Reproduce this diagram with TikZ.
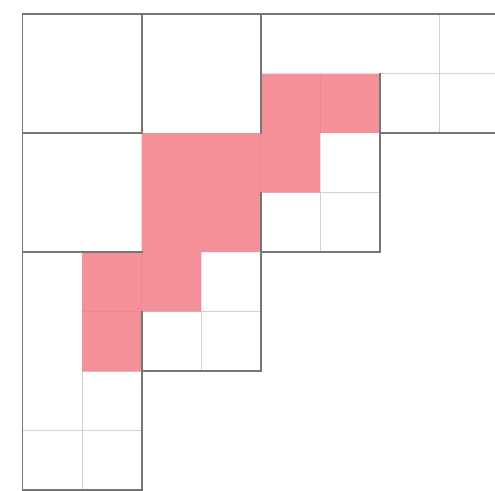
\documentclass[tikz,border=0pt]{standalone}
\definecolor{pinkfill}{RGB}{244,145,152}
\definecolor{pinkline}{RGB}{236,136,144}
\definecolor{darkline}{RGB}{118,118,118}
\definecolor{lightline}{RGB}{210,210,210}
\tikzset{
  thickline/.style={draw=darkline,line width=1.9pt,line cap=rect},
  thinline/.style={draw=lightline,line width=0.9pt},
  faintline/.style={draw=pinkline,line width=0.8pt},
  ribbon/.style={fill=pinkfill}
}
\begin{document}
\begin{tikzpicture}[x=59.6pt,y=-59.55pt]
\useasboundingbox (-0.3775,-0.2351) rectangle (7.928,8.010);
% thin grid lines
\draw[thinline] (7,0) -- (7,2);
\draw[thinline] (6,1) -- (8.2,1);
\draw[thinline] (5,3) -- (5,4);
\draw[thinline] (4,3) -- (6,3);
\draw[thinline] (3,5) -- (3,6);
\draw[thinline] (2,5) -- (4,5);
\draw[thinline] (1,6) -- (1,8);
\draw[thinline] (0,7) -- (2,7);
\draw[thinline] (1,6) -- (2,6);
% pink ribbon
\fill[ribbon] (4,1) -- (6,1) -- (6,2) -- (5,2) -- (5,3) -- (4,3) -- (4,4) -- (3,4)
  -- (3,5) -- (2,5) -- (2,6) -- (1,6) -- (1,4) -- (2,4) -- (2,2) -- (4,2) -- cycle;
% faint lines inside the ribbon
\draw[faintline] (5,1) -- (5,2);
\draw[faintline] (4,2) -- (4,3);
\draw[faintline] (2,4) -- (2,5);
\draw[faintline] (1,5) -- (2,5);
% thick outlines
\draw[thickline] (0,0) -- (8.2,0);
\draw[thickline] (0,0) -- (0,8);
\draw[thickline] (2,0) -- (2,2);
\draw[thickline] (4,0) -- (4,2);
\draw[thickline] (0,2) -- (2,2);
\draw[thickline] (0,4) -- (2,4);
\draw[thickline] (6,1) -- (6,4);
\draw[thickline] (6,2) -- (8.2,2);
\draw[thickline] (4,4) -- (6,4);
\draw[thickline] (4,3) -- (4,6);
\draw[thickline] (2,6) -- (4,6);
\draw[thickline] (2,5) -- (2,8);
\draw[thickline] (0,8) -- (2,8);
\end{tikzpicture}
\end{document}
